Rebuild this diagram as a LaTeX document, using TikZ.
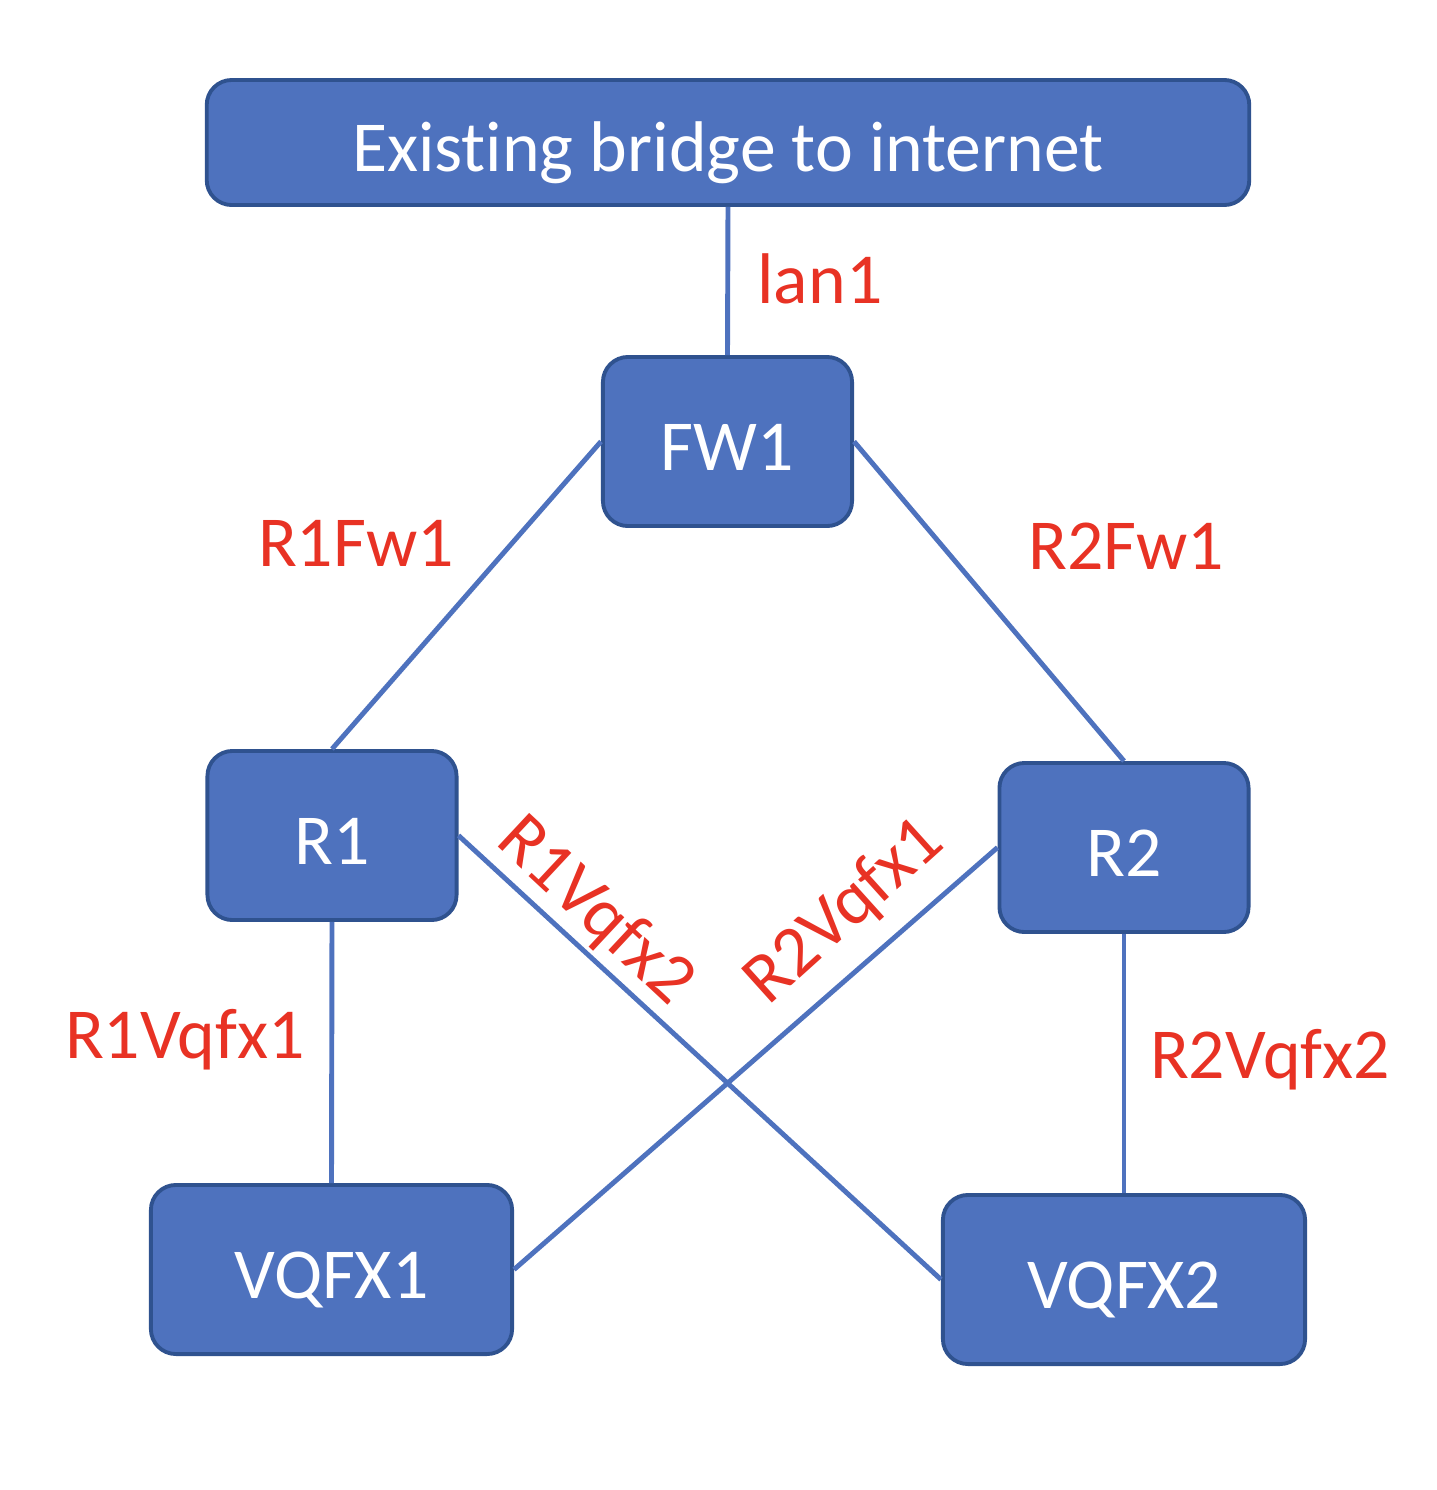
\documentclass[tikz,border=0pt]{standalone}
\usepackage{fontspec}
\setmainfont{Carlito}[Ligatures=NoCommon]
\definecolor{boxblue}{RGB}{78,114,190}
\definecolor{edgeblue}{RGB}{47,82,143}
\definecolor{labelred}{RGB}{232,50,36}
\tikzset{
  dev/.style={draw=edgeblue, line width=1.1pt, fill=boxblue, rounded corners=0.25cm,
    text=white, inner sep=0pt, minimum width=2.49cm, minimum height=1.69cm,
    text height=0.62cm, text depth=0.05cm},
  link/.style={draw=boxblue, line width=1.4pt},
  lbl/.style={text=labelred, inner sep=0pt}
}
\begin{document}
\begin{tikzpicture}[x=0.01cm, y=-0.01cm, font=\fontsize{20.4}{24}\selectfont, line join=round]
	\useasboundingbox (0,0) rectangle (1437,1490);
	% boxes
	\node[dev, minimum width=10.42cm, minimum height=1.25cm] (bridge) at (728,142.5) {Existing bridge to internet};
	\node[dev] (FW1) at (727.5,441.5) {FW1};
	\node[dev] (R1) at (332,835.5) {R1};
	\node[dev] (R2) at (1124,847.5) {R2};
	\node[dev, minimum width=3.61cm] (VQFX1) at (331.5,1269.5) {VQFX1};
	\node[dev, minimum width=3.62cm] (VQFX2) at (1124,1279.5) {VQFX2};
	% links
	\draw[link] (bridge.south) -- (FW1.north);
	\draw[link] (FW1.west) -- (R1.north);
	\draw[link] (FW1.east) -- (R2.north);
	\draw[link] (R1.south) -- (VQFX1.north);
	\draw[link] (R1.east) -- (VQFX2.west);
	\draw[link] (R2.west) -- (VQFX1.east);
	\draw[link] (R2.south) -- (VQFX2.north);
	% labels
	\node[lbl, anchor=base] (lan) at (820,303) {lan1};
	\node[lbl, anchor=base] (rfa) at (356,566) {R1Fw1};
	\node[lbl, anchor=base] (rfb) at (1126,569) {R2Fw1};
	\node[lbl, anchor=base] (rva) at (185,1058) {R1Vqfx1};
	\node[lbl, anchor=base] (rvd) at (1270,1078) {R2Vqfx2};
	\node[lbl, rotate=-43] (rvb) at (595,912) {R1Vqfx2};
	\node[lbl, rotate=42] (rvc) at (845,912) {R2Vqfx1};
\end{tikzpicture}
\end{document}
